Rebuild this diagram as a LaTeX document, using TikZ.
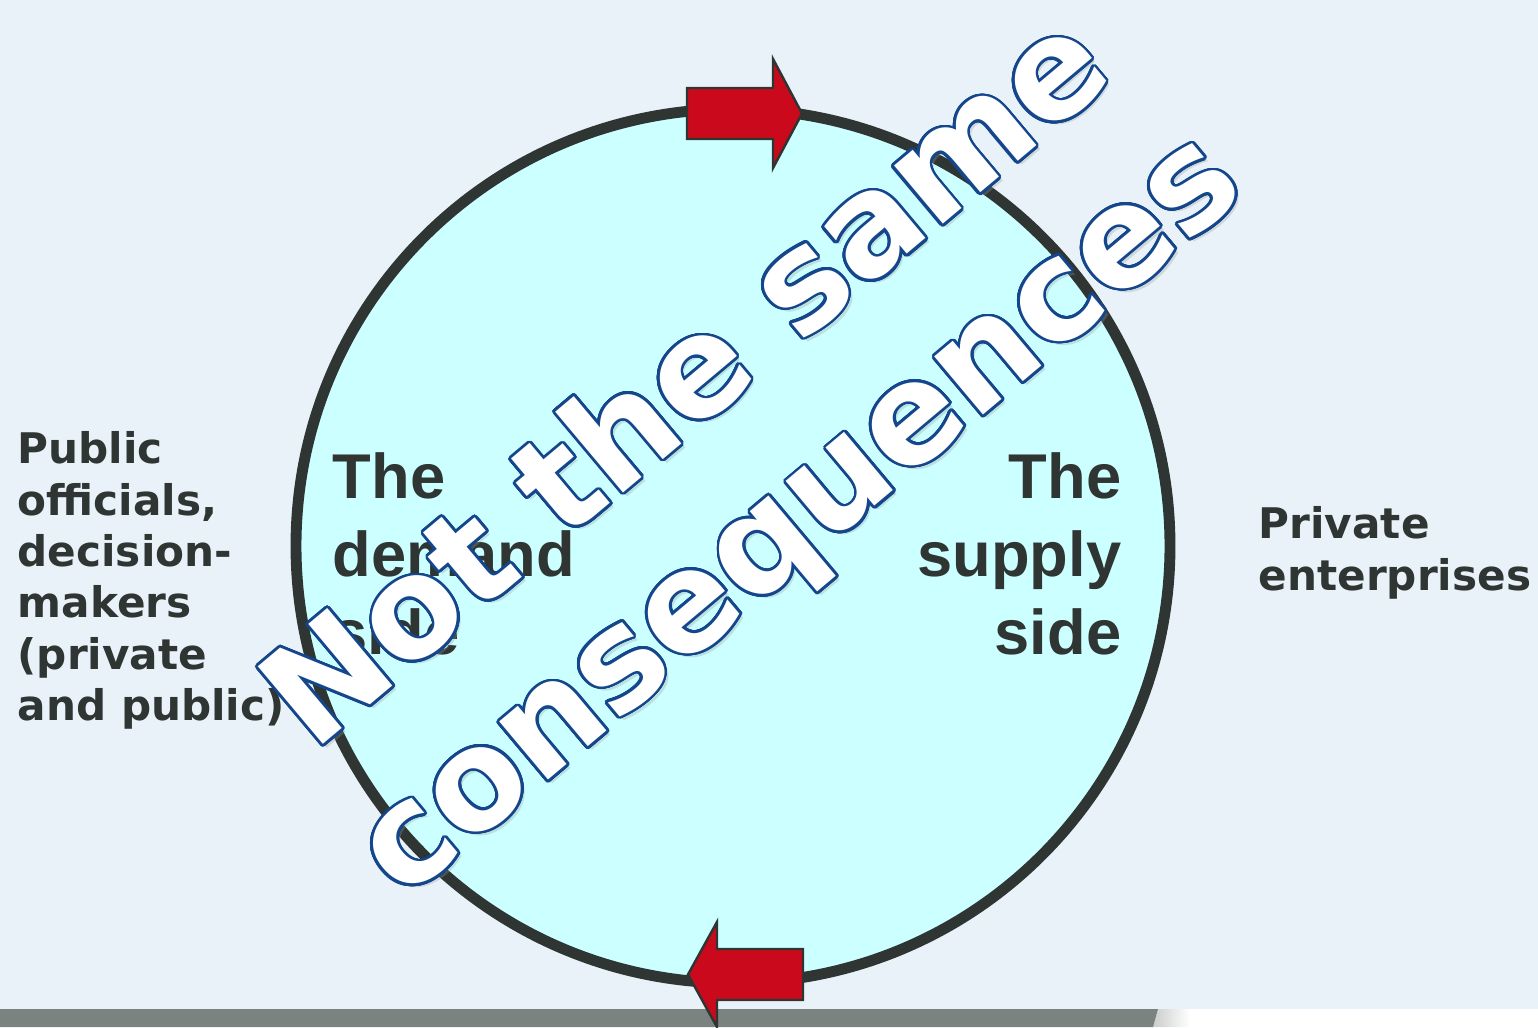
\documentclass[tikz,border=0pt]{standalone}
\usepackage{fontspec}
\setmainfont{DejaVu Sans}
\newfontfamily\arialfont{Liberation Sans}
\usepackage[copies]{contour}
\contourlength{0.75pt}
\contournumber{32}
\definecolor{bgblue}{RGB}{232,242,248}
\definecolor{circfill}{RGB}{204,255,255}
\definecolor{darkline}{RGB}{46,53,51}
\definecolor{arrowred}{RGB}{202,10,28}
\definecolor{bargray}{RGB}{123,131,128}
\definecolor{outlineblue}{RGB}{20,70,140}
\usetikzlibrary{positioning}

\begin{document}
\begin{tikzpicture}[
  sidetext/.style={text=darkline,font=\bfseries\fontsize{12}{14.6}\selectfont,
                   align=left,inner sep=0pt},
  halftext/.style={text=darkline,font=\arialfont\bfseries\fontsize{18}{22.2}\selectfont,
                   inner sep=0pt},
  redarrow/.style={fill=arrowred,draw=darkline,line width=0.7pt,line join=miter},
  bigtext/.style={font=\bfseries\fontsize{39.5}{49}\selectfont,align=center,
                  rotate=40,inner sep=0pt},
]
  % background and bottom bar
  \fill[bgblue] (0,0) rectangle (15.38,10.27);
  \useasboundingbox (0,0) rectangle (15.38,10.27);
  \fill[white] (11.53,0) -- (11.58,0.18) -- (15.38,0.18) -- (15.38,0) -- cycle;
  \shade[left color=bargray!40,right color=white] (11.53,0) -- (11.58,0.18) -- (11.9,0.18) -- (11.9,0) -- cycle;
  \fill[bargray] (0,0) -- (0,0.18) -- (11.58,0.18) -- (11.53,0) -- cycle;

  % the circle
  \node[circle,draw=darkline,fill=circfill,line width=3.1pt,minimum size=8.74cm]
    (loop) at (7.33,4.81) {};

  % red arrows on the circle
  \draw[redarrow] (6.87,9.39) -- (7.73,9.39) -- (7.73,9.68) -- (8.02,9.135)
    -- (7.73,8.59) -- (7.73,8.88) -- (6.87,8.88) -- cycle;
  \draw[redarrow] (8.03,0.78) -- (7.17,0.78) -- (7.17,1.05) -- (6.88,0.525)
    -- (7.17,0.0) -- (7.17,0.27) -- (8.03,0.27) -- cycle;

  % texts
  \node[sidetext,anchor=north west] (officials) at (0.17,5.96)
    {Public\\officials,\\decision-\\makers\\(private\\and public)};
  \node[sidetext,anchor=north west] (enterprises) at (12.58,5.21)
    {Private\\enterprises};
  \node[halftext,align=left,anchor=north west] (demand) at (3.32,5.75)
    {The\\demand\\side};
  \node[halftext,align=right,anchor=north east] (supply) at (11.22,5.75)
    {The\\supply\\side};

  % stamp across the circle
  \node[bigtext,text=black!40,text opacity=0.3] (stampshadow) at (7.50,5.71)
    {Not the same\\consequences};
  \node[bigtext] (stamp) at (7.47,5.74)
    {\contour{outlineblue}{\textcolor{white}{Not the same}}\\
     \contour{outlineblue}{\textcolor{white}{consequences}}};
\end{tikzpicture}
\end{document}
